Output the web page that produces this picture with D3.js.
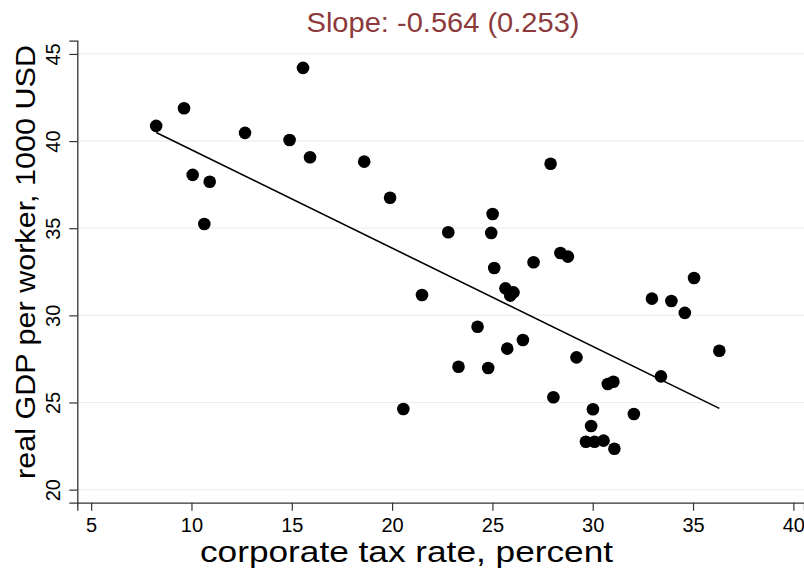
<!DOCTYPE html>
<html>
<head>
<meta charset="utf-8">
<script src="https://cdn.jsdelivr.net/npm/d3@7"></script>
<style>
  html, body { margin: 0; padding: 0; background: #fff; }
  svg { display: block; font-family: "Liberation Sans", Arial, Helvetica, sans-serif; }
</style>
</head>
<body>
<svg id="chart" width="804" height="570"></svg>
<script>
// corporate tax rate (percent) vs real GDP per worker (1000 USD)
const taxRate = [
  8.24, 9.63, 10.06, 10.91, 10.64, 12.67, 14.89, 15.56, 15.91, 18.61,
  19.90, 27.90, 25.01, 22.80, 24.94, 28.39, 28.76, 25.09, 27.05, 21.49,
  25.65, 26.05, 25.89, 24.26, 26.52, 25.74, 23.31, 24.79, 29.19, 20.56,
  28.04, 30.01, 29.92, 29.66, 30.09, 30.54, 31.08, 32.05, 30.75, 31.03,
  32.95, 33.92, 34.59, 35.05, 36.31, 33.40
];
const gdpWorker = [
  40.87, 41.88, 38.06, 37.67, 35.24, 40.47, 40.06, 44.20, 39.07, 38.82,
  36.75, 38.70, 35.82, 34.77, 34.73, 33.58, 33.37, 32.72, 33.05, 31.17,
  31.55, 31.32, 31.13, 29.35, 28.59, 28.09, 27.05, 26.98, 27.59, 24.63,
  25.30, 24.61, 23.65, 22.75, 22.75, 22.81, 22.35, 24.34, 26.06, 26.19,
  30.96, 30.82, 30.14, 32.14, 27.97, 26.50
];
const xTicks = [5, 10, 15, 20, 25, 30, 35, 40];
const yTicks = [20, 25, 30, 35, 40, 45];
const fitIntercept = 45.14;
const fitSlope = -0.564;
const fitSE = 0.253;

const svg = d3.select("#chart");

const x = d3.scaleLinear().domain([4.31, 40.53]).range([77.3, 804]);
const y = d3.scaleLinear().domain([19.25, 45.76]).range([502.7, 40.7]);

// gridlines
svg.append("g")
  .selectAll("line")
  .data(yTicks)
  .enter()
  .append("line")
  .attr("x1", x.range()[0])
  .attr("x2", x.range()[1])
  .attr("y1", d => y(d))
  .attr("y2", d => y(d))
  .attr("stroke", "#e9eff5")
  .attr("stroke-width", 1.2);

// axes
const xAxis = svg.append("g")
  .attr("transform", `translate(0, ${y.range()[0]})`)
  .call(d3.axisBottom(x).tickValues(xTicks).tickSizeOuter(0).tickSize(8).tickPadding(7));

const yAxis = svg.append("g")
  .attr("transform", `translate(${x.range()[0]}, 0)`)
  .call(d3.axisLeft(y).tickValues(yTicks).tickSizeOuter(0).tickSize(8));

[xAxis, yAxis].forEach(a => {
  a.select(".domain").attr("stroke", "#333").attr("stroke-width", 1.3);
  a.selectAll(".tick line").attr("stroke", "#333").attr("stroke-width", 1.2);
});

xAxis.selectAll(".tick text")
  .attr("fill", "#000")
  .style("font-size", "20px")
  .style("font-family", "'Liberation Sans', Arial, sans-serif");

// y tick labels are vertical, as in Stata
yAxis.selectAll(".tick text")
  .attr("fill", "#000")
  .attr("x", 0)
  .attr("dy", 0)
  .attr("text-anchor", "middle")
  .attr("transform", "translate(-17, 0) rotate(-90)")
  .style("font-size", "20px")
  .style("font-family", "'Liberation Sans', Arial, sans-serif");

// fitted line
const xMin = d3.min(taxRate), xMax = d3.max(taxRate);
svg.append("line")
  .attr("x1", x(xMin))
  .attr("y1", y(fitIntercept + fitSlope * xMin))
  .attr("x2", x(xMax))
  .attr("y2", y(fitIntercept + fitSlope * xMax))
  .attr("stroke", "#000")
  .attr("stroke-width", 1.6);

// points
svg.append("g")
  .selectAll("circle")
  .data(taxRate.map((d, i) => [d, gdpWorker[i]]))
  .enter()
  .append("circle")
  .attr("cx", d => x(d[0]))
  .attr("cy", d => y(d[1]))
  .attr("r", 6.3)
  .attr("fill", "#000");

// titles
svg.append("text")
  .attr("x", 443)
  .attr("y", 32)
  .attr("text-anchor", "middle")
  .attr("fill", "#8c3a3b")
  .attr("textLength", 273)
  .attr("lengthAdjust", "spacingAndGlyphs")
  .style("font-size", "28px")
  .text(`Slope: ${fitSlope.toFixed(3)} (${fitSE.toFixed(3)})`);

svg.append("text")
  .attr("x", 406.5)
  .attr("y", 562)
  .attr("text-anchor", "middle")
  .attr("fill", "#000")
  .attr("textLength", 413)
  .attr("lengthAdjust", "spacingAndGlyphs")
  .style("font-size", "30px")
  .text("corporate tax rate, percent");

svg.append("text")
  .attr("transform", "translate(35, 262) rotate(-90)")
  .attr("text-anchor", "middle")
  .attr("fill", "#000")
  .attr("textLength", 434)
  .attr("lengthAdjust", "spacingAndGlyphs")
  .style("font-size", "27px")
  .text("real GDP per worker, 1000 USD");
</script>
</body>
</html>
